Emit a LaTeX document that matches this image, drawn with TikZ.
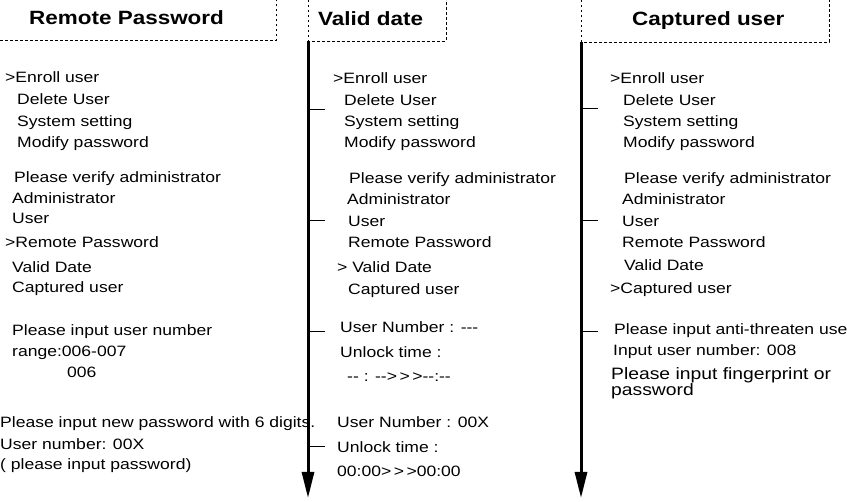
\documentclass[tikz,border=0pt]{standalone}
\usepackage{fontspec}
\setmainfont{Liberation Sans}[FakeStretch=1.17]
\usetikzlibrary{arrows.meta}

\tikzset{
  menu/.style={anchor=base west,inner sep=0pt,font=\fontsize{15}{16}\selectfont},
  bigmenu/.style={menu,font=\fontsize{16.5}{16}\selectfont},
  head/.style={anchor=base west,inner sep=0pt,font=\bfseries\fontsize{19.2}{20}\selectfont},
  frame/.style={draw,line width=0.9pt,dash pattern=on 2.5pt off 2.5pt},
  flow/.style={draw,line width=3pt,-{Triangle[length=26pt,width=12pt]}},
  tick/.style={draw,line width=1pt}
}

\begin{document}
\begin{tikzpicture}[x=1pt,y=-1pt]
\useasboundingbox (0,0) rectangle (847,502);

% header boxes
\path[frame] (0,40.5) -- (276,40.5) -- (276,0);
\path[frame] (308,0) -- (308,41) -- (446,41) -- (446,0);
\path[frame] (581,0) -- (581,42) -- (829,42) -- (829,0);

\node[head] (rphead) at (29,25) {Remote Password};
\node[head] (vdhead) at (318,26) {Valid date};
\node[head] (cuhead) at (632,26) {Captured user};

% time lines
\coordinate (vdtop) at (308,41);
\coordinate (vdend) at (308,498);
\coordinate (cutop) at (581,42);
\coordinate (cuend) at (581,498);
\path[flow] (vdtop) -- (vdend);
\path[flow] (cutop) -- (cuend);

\path[tick] (308,110) -- (325,110);
\path[tick] (308,221) -- (325,221);
\path[tick] (308,332) -- (325,332);
\path[tick] (308,447) -- (325,447);
\path[tick] (581,109) -- (598,109);
\path[tick] (581,221) -- (598,221);
\path[tick] (581,332) -- (598,332);

% remote password
\node[menu] (a1) at (5,83) {>Enroll user};
\node[menu] (a2) at (17,105) {Delete User};
\node[menu] (a3) at (17,127) {System setting};
\node[menu] (a4) at (17,148) {Modify password};
\node[menu] (a5) at (14,183) {Please verify administrator};
\node[menu] (a6) at (12,204) {Administrator};
\node[menu] (a7) at (12,224) {User};
\node[menu] (a8) at (5,248) {>Remote Password};
\node[menu] (a9) at (12,273) {Valid Date};
\node[menu] (a10) at (12,293) {Captured user};
\node[menu] (a11) at (12,336) {Please input user number};
\node[menu] (a12) at (12,357) {range:006-007};
\node[menu] (a13) at (67,378) {006};
\node[menu] (a14) at (0,428) {Please input new password with 6 digits.};
\node[menu] (a15) at (0,450) {User number: 00X};
\node[menu] (a16) at (0,470) {( please input password)};

% valid date
\node[menu] (b1) at (333,84) {>Enroll user};
\node[menu] (b2) at (344,106) {Delete User};
\node[menu] (b3) at (344,127) {System setting};
\node[menu] (b4) at (344,148) {Modify password};
\node[menu] (b5) at (349,184) {Please verify administrator};
\node[menu] (b6) at (347,205) {Administrator};
\node[menu] (b7) at (348,227) {User};
\node[menu] (b8) at (348,248) {Remote Password};
\node[menu] (b9) at (337,273) {> Valid Date};
\node[menu] (b10) at (348,295) {Captured user};
\node[menu] (b11) at (340,333) {User Number : {-}{-}{-}};
\node[menu] (b12) at (340,358) {Unlock time :};
\node[menu] (b13) at (347,382) {{-}{-} : {-}{-}>\,>\,>{-}{-}:{-}{-}};
\node[menu] (b14) at (337,428) {User Number : 00X};
\node[menu] (b15) at (337,453) {Unlock time :};
\node[menu] (b16) at (337,477) {00:00>\,>\,>00:00};

% captured user
\node[menu] (c1) at (610,84) {>Enroll user};
\node[menu] (c2) at (623,106) {Delete User};
\node[menu] (c3) at (623,127) {System setting};
\node[menu] (c4) at (623,148) {Modify password};
\node[menu] (c5) at (624,184) {Please verify administrator};
\node[menu] (c6) at (622,205) {Administrator};
\node[menu] (c7) at (622,227) {User};
\node[menu] (c8) at (622,248) {Remote Password};
\node[menu] (c9) at (624,271) {Valid Date};
\node[menu] (c10) at (610,294) {>Captured user};
\node[menu] (c11) at (614,335) {Please input anti-threaten use};
\node[menu] (c12) at (613,356) {Input user number: 008};
\node[bigmenu] (c13) at (611,380) {Please input fingerprint or};
\node[bigmenu] (c14) at (611,396) {password};

\end{tikzpicture}
\end{document}
